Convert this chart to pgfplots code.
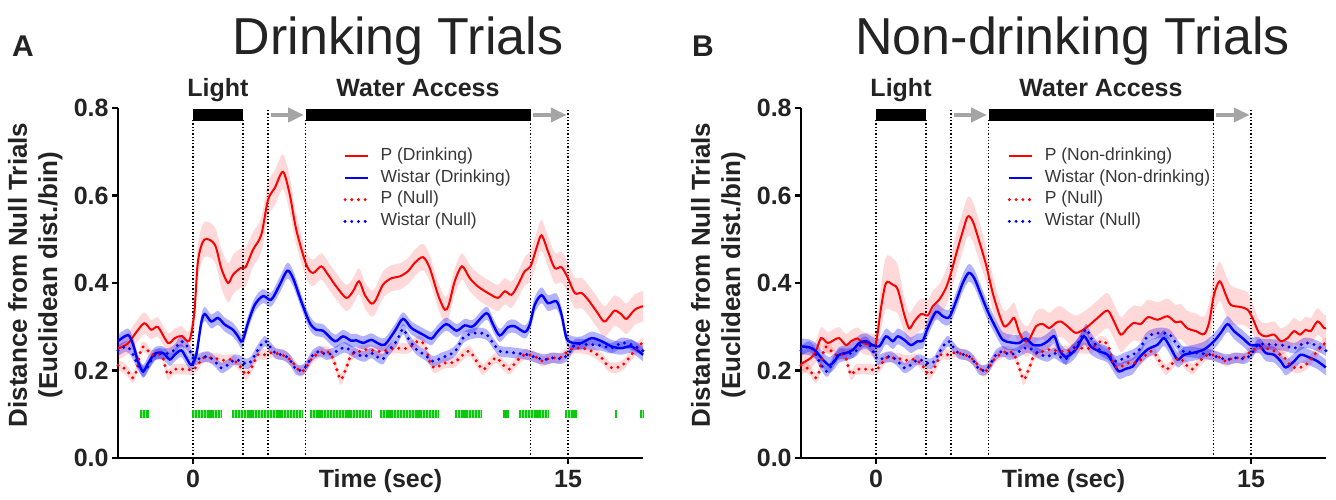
\documentclass[border=0pt]{standalone}
\usepackage{fontspec}
\setmainfont{Liberation Sans}
\usepackage{pgfplots}
\usepackage{pgfplotstable}
\pgfplotsset{compat=1.18}
\usepgfplotslibrary{fillbetween}
\usetikzlibrary{arrows.meta}

\definecolor{txt}{RGB}{35,35,35}
\definecolor{legtxt}{RGB}{55,55,55}
\definecolor{pred}{RGB}{255,0,0}
\definecolor{wblue}{RGB}{0,0,255}
\definecolor{arrowgray}{RGB}{165,165,165}
\definecolor{tickgreen}{RGB}{10,200,10}
\definecolor{tickgreenlt}{RGB}{150,228,150}

% ---- Drinking trials: mean distance (y) and SEM (e) per time point ----
\pgfplotstableread{
t y e
-3.0 0.250 0.025
-2.6 0.262 0.025
-2.3 0.285 0.025
-1.95 0.308 0.025
-1.67 0.293 0.022
-1.4 0.299 0.022
-1.0 0.263 0.022
-0.73 0.274 0.022
-0.45 0.279 0.022
-0.15 0.268 0.022
0.05 0.330 0.030
0.2 0.450 0.040
0.45 0.499 0.040
0.87 0.488 0.040
1.13 0.434 0.045
1.4 0.400 0.045
1.6 0.419 0.045
1.9 0.434 0.045
2.1 0.436 0.045
2.4 0.476 0.040
2.73 0.510 0.040
3.0 0.590 0.040
3.27 0.617 0.040
3.6 0.654 0.040
3.87 0.602 0.040
4.13 0.522 0.035
4.53 0.442 0.030
4.8 0.423 0.030
5.13 0.438 0.030
5.4 0.419 0.030
5.73 0.392 0.030
6.13 0.366 0.030
6.4 0.381 0.030
6.64 0.404 0.030
6.87 0.373 0.030
7.13 0.353 0.030
7.3 0.360 0.030
7.6 0.396 0.030
7.94 0.411 0.030
8.27 0.415 0.030
8.6 0.427 0.030
8.87 0.446 0.030
9.2 0.459 0.030
9.47 0.434 0.030
9.8 0.373 0.030
10.07 0.339 0.030
10.23 0.350 0.030
10.47 0.404 0.030
10.76 0.438 0.030
11.07 0.411 0.030
11.4 0.392 0.030
11.8 0.377 0.030
12.2 0.366 0.030
12.47 0.381 0.030
12.74 0.373 0.030
13.0 0.396 0.030
13.27 0.427 0.032
13.5 0.438 0.035
13.74 0.480 0.035
13.94 0.509 0.035
14.2 0.472 0.035
14.47 0.434 0.035
14.74 0.436 0.035
15.0 0.411 0.035
15.27 0.377 0.035
15.54 0.377 0.035
15.8 0.362 0.035
16.14 0.335 0.035
16.44 0.312 0.035
16.67 0.324 0.035
16.87 0.337 0.035
17.14 0.328 0.035
17.34 0.318 0.035
17.67 0.339 0.035
18.0 0.347 0.035
}\PDrink

\pgfplotstableread{
t y e
-3.0 0.267 0.015
-2.6 0.281 0.015
-2.4 0.260 0.015
-2.2 0.221 0.015
-2.0 0.198 0.015
-1.8 0.216 0.015
-1.53 0.238 0.015
-1.2 0.240 0.015
-0.93 0.225 0.015
-0.73 0.236 0.015
-0.47 0.246 0.015
-0.27 0.229 0.015
-0.07 0.213 0.015
0.13 0.236 0.015
0.33 0.309 0.016
0.47 0.329 0.016
0.73 0.312 0.016
1.0 0.320 0.016
1.27 0.305 0.016
1.6 0.293 0.016
1.8 0.278 0.016
1.97 0.267 0.016
2.2 0.309 0.016
2.47 0.350 0.016
2.8 0.370 0.016
3.13 0.362 0.016
3.47 0.396 0.018
3.77 0.428 0.018
4.0 0.411 0.018
4.33 0.358 0.016
4.67 0.309 0.016
4.93 0.293 0.015
5.2 0.291 0.015
5.67 0.267 0.015
6.0 0.278 0.015
6.33 0.268 0.015
6.53 0.269 0.015
6.8 0.263 0.015
7.13 0.270 0.015
7.4 0.262 0.015
7.67 0.259 0.015
8.07 0.290 0.015
8.4 0.318 0.015
8.74 0.297 0.015
9.2 0.282 0.015
9.54 0.273 0.015
9.8 0.290 0.015
10.14 0.306 0.015
10.54 0.291 0.015
10.87 0.303 0.015
11.2 0.301 0.015
11.74 0.331 0.015
12.0 0.305 0.015
12.27 0.280 0.015
12.6 0.299 0.015
12.87 0.301 0.015
13.27 0.288 0.015
13.47 0.305 0.016
13.67 0.350 0.018
13.94 0.372 0.018
14.2 0.354 0.018
14.54 0.358 0.018
14.74 0.328 0.016
14.94 0.274 0.015
15.2 0.263 0.015
15.54 0.263 0.015
15.94 0.274 0.015
16.34 0.267 0.015
16.74 0.255 0.015
17.14 0.251 0.015
17.54 0.255 0.015
18.0 0.236 0.015
}\WDrink

% ---- Non-drinking trials ----
\pgfplotstableread{
t y e
-3.0 0.215 0.025
-2.6 0.229 0.025
-2.4 0.244 0.025
-2.2 0.274 0.025
-1.93 0.263 0.025
-1.67 0.270 0.025
-1.47 0.274 0.025
-1.2 0.258 0.025
-1.0 0.267 0.025
-0.73 0.273 0.025
-0.53 0.263 0.025
-0.2 0.259 0.025
0.0 0.263 0.030
0.2 0.343 0.050
0.4 0.400 0.060
0.67 0.396 0.060
0.87 0.385 0.055
1.13 0.328 0.040
1.33 0.296 0.035
1.53 0.312 0.035
1.8 0.329 0.035
2.07 0.326 0.035
2.27 0.347 0.035
2.53 0.362 0.035
2.8 0.389 0.040
3.0 0.423 0.040
3.2 0.465 0.045
3.47 0.518 0.045
3.67 0.552 0.045
3.87 0.541 0.045
4.13 0.495 0.045
4.4 0.442 0.040
4.67 0.377 0.040
4.93 0.328 0.035
5.13 0.301 0.035
5.33 0.308 0.035
5.53 0.320 0.035
5.71 0.290 0.035
5.9 0.270 0.035
6.1 0.268 0.035
6.4 0.301 0.035
6.67 0.306 0.035
6.93 0.297 0.035
7.2 0.309 0.035
7.39 0.312 0.035
7.66 0.301 0.035
7.99 0.286 0.040
8.39 0.297 0.040
8.86 0.320 0.040
9.26 0.337 0.040
9.52 0.312 0.040
9.79 0.282 0.040
10.06 0.297 0.040
10.32 0.309 0.040
10.59 0.306 0.040
10.88 0.322 0.040
11.26 0.316 0.040
11.66 0.324 0.040
11.99 0.310 0.040
12.19 0.312 0.040
12.46 0.296 0.040
12.79 0.290 0.040
13.12 0.283 0.040
13.32 0.309 0.045
13.52 0.373 0.045
13.75 0.404 0.045
13.99 0.373 0.045
14.19 0.350 0.045
14.59 0.345 0.040
14.86 0.339 0.040
15.06 0.320 0.035
15.32 0.286 0.030
15.59 0.278 0.030
15.92 0.282 0.030
16.19 0.267 0.030
16.46 0.274 0.030
16.72 0.290 0.030
16.96 0.282 0.030
17.19 0.293 0.030
17.39 0.290 0.030
17.66 0.312 0.030
17.92 0.297 0.030
18.0 0.297 0.030
}\PNon

\pgfplotstableread{
t y e
-3.0 0.255 0.018
-2.67 0.253 0.018
-2.4 0.244 0.018
-2.13 0.225 0.018
-1.87 0.212 0.018
-1.67 0.221 0.018
-1.47 0.236 0.018
-1.2 0.240 0.018
-0.93 0.247 0.018
-0.67 0.263 0.018
-0.4 0.267 0.018
-0.13 0.258 0.018
0.13 0.255 0.018
0.4 0.278 0.018
0.67 0.267 0.018
0.87 0.278 0.018
1.13 0.270 0.018
1.4 0.258 0.018
1.67 0.267 0.018
1.87 0.268 0.018
2.07 0.297 0.018
2.4 0.334 0.018
2.67 0.324 0.018
2.93 0.322 0.018
3.2 0.358 0.020
3.47 0.400 0.020
3.71 0.423 0.020
3.93 0.411 0.020
4.2 0.373 0.020
4.47 0.335 0.020
4.8 0.297 0.018
5.07 0.270 0.018
5.4 0.264 0.018
5.73 0.263 0.018
6.0 0.273 0.018
6.27 0.259 0.018
6.6 0.258 0.018
6.87 0.267 0.018
7.13 0.278 0.018
7.33 0.248 0.018
7.53 0.233 0.018
7.66 0.232 0.018
7.99 0.248 0.018
8.32 0.278 0.018
8.59 0.255 0.018
8.92 0.244 0.018
9.26 0.236 0.018
9.52 0.213 0.018
9.72 0.198 0.018
9.99 0.204 0.018
10.26 0.209 0.018
10.52 0.229 0.018
10.86 0.248 0.018
11.26 0.259 0.018
11.52 0.274 0.018
11.79 0.251 0.018
12.06 0.225 0.018
12.32 0.236 0.018
12.66 0.240 0.018
13.12 0.248 0.018
13.52 0.267 0.018
13.79 0.286 0.018
14.06 0.306 0.018
14.32 0.290 0.018
14.66 0.274 0.018
14.99 0.258 0.018
15.32 0.258 0.018
15.59 0.240 0.018
15.92 0.236 0.018
16.19 0.221 0.018
16.39 0.207 0.018
16.72 0.221 0.018
16.99 0.236 0.018
17.32 0.230 0.018
17.66 0.221 0.018
17.99 0.207 0.018
}\WNon

% ---- Null trials (shared by both panels) ----
\pgfplotstableread{
t y e
-3.0 0.212 0.012
-2.67 0.202 0.012
-2.43 0.183 0.012
-2.27 0.198 0.012
-2.07 0.250 0.012
-1.87 0.251 0.012
-1.67 0.236 0.012
-1.27 0.236 0.012
-1.13 0.213 0.012
-1.0 0.190 0.012
-0.8 0.202 0.012
-0.6 0.203 0.012
-0.33 0.203 0.012
0.0 0.202 0.012
0.2 0.213 0.012
0.4 0.229 0.012
0.67 0.229 0.012
0.93 0.227 0.012
1.27 0.223 0.012
1.6 0.225 0.012
1.93 0.206 0.012
2.13 0.190 0.012
2.4 0.213 0.012
2.6 0.236 0.012
2.93 0.236 0.012
3.2 0.242 0.012
3.47 0.236 0.012
3.73 0.232 0.012
4.07 0.213 0.012
4.27 0.198 0.012
4.47 0.202 0.012
4.67 0.221 0.012
4.93 0.236 0.012
5.27 0.244 0.012
5.53 0.236 0.012
5.73 0.206 0.012
5.91 0.179 0.012
6.13 0.206 0.012
6.33 0.236 0.012
6.6 0.242 0.012
6.93 0.248 0.012
7.33 0.244 0.012
7.6 0.244 0.012
8.07 0.251 0.012
8.6 0.251 0.012
9.0 0.267 0.012
9.27 0.259 0.012
9.47 0.221 0.012
9.67 0.206 0.012
10.07 0.217 0.012
10.47 0.219 0.012
10.8 0.236 0.012
11.07 0.244 0.012
11.34 0.221 0.012
11.6 0.202 0.012
11.87 0.217 0.012
12.14 0.229 0.012
12.4 0.213 0.012
12.67 0.203 0.012
12.94 0.221 0.012
13.27 0.236 0.012
13.67 0.232 0.012
14.0 0.221 0.012
14.27 0.229 0.012
14.67 0.229 0.012
15.0 0.244 0.012
15.27 0.251 0.012
15.8 0.248 0.012
16.34 0.229 0.012
16.6 0.210 0.012
16.87 0.206 0.012
17.2 0.213 0.012
17.54 0.236 0.012
17.87 0.259 0.012
18.0 0.262 0.012
}\PNull

\pgfplotstableread{
t y e
-3.0 0.245 0.012
-2.67 0.255 0.012
-2.47 0.244 0.012
-2.27 0.221 0.012
-2.07 0.202 0.012
-1.93 0.198 0.012
-1.73 0.217 0.012
-1.47 0.238 0.012
-1.2 0.238 0.012
-0.93 0.240 0.012
-0.73 0.248 0.012
-0.53 0.265 0.012
-0.33 0.263 0.012
-0.13 0.245 0.012
0.07 0.225 0.012
0.33 0.229 0.012
0.6 0.232 0.012
0.87 0.221 0.012
1.13 0.206 0.012
1.4 0.213 0.012
1.67 0.225 0.012
1.93 0.221 0.012
2.13 0.215 0.012
2.33 0.221 0.012
2.6 0.248 0.012
2.87 0.267 0.012
3.07 0.255 0.012
3.33 0.238 0.012
3.6 0.236 0.012
3.87 0.225 0.012
4.13 0.202 0.012
4.4 0.202 0.012
4.6 0.217 0.012
4.8 0.236 0.012
5.07 0.244 0.012
5.33 0.236 0.012
5.6 0.240 0.012
5.87 0.248 0.012
6.07 0.253 0.012
6.33 0.245 0.012
6.6 0.236 0.012
6.87 0.232 0.012
7.13 0.240 0.012
7.4 0.230 0.012
7.6 0.226 0.012
7.8 0.244 0.012
8.14 0.267 0.012
8.4 0.295 0.012
8.6 0.274 0.012
8.94 0.248 0.012
9.27 0.236 0.012
9.6 0.221 0.012
9.94 0.229 0.012
10.27 0.236 0.012
10.54 0.248 0.012
10.8 0.274 0.012
11.07 0.283 0.012
11.4 0.286 0.012
11.74 0.282 0.012
12.0 0.263 0.012
12.27 0.244 0.012
12.6 0.242 0.012
13.0 0.239 0.012
13.4 0.236 0.012
13.74 0.229 0.012
14.07 0.225 0.012
14.4 0.229 0.012
14.74 0.227 0.012
15.0 0.236 0.012
15.27 0.259 0.012
15.6 0.260 0.012
15.94 0.259 0.012
16.34 0.257 0.012
16.74 0.251 0.012
17.14 0.263 0.012
17.54 0.259 0.012
18.0 0.245 0.012
}\WNull

% shaded SEM band around a series: #1 path id, #2 table, #3 colour, #4 opacity
\newcommand{\semband}[4]{%
  \addplot[draw=none, smooth, forget plot, name path=#1u]
    table[x=t, y expr=\thisrow{y}+\thisrow{e}] {#2};
  \addplot[draw=none, smooth, forget plot, name path=#1l]
    table[x=t, y expr=\thisrow{y}-\thisrow{e}] {#2};
  \addplot[fill=#3, fill opacity=#4, draw=none, forget plot]
    fill between[of=#1u and #1l];
}

% one run of significant bins, drawn as a striped strip at 0.1
\newcommand{\sigrun}[2]{%
  \addplot[tickgreenlt, line width=4.2pt, line cap=butt, forget plot]
    coordinates {(#1,0.1) (#2,0.1)};
  \addplot[tickgreen, line width=4.2pt, line cap=butt, dash pattern=on 1.05pt off 0.4pt, forget plot]
    coordinates {(#1,0.1) (#2,0.1)};
}

% light / water-access timeline and event markers
\newcommand{\timeline}{%
  \addplot[black, densely dotted, line width=0.65pt, forget plot] coordinates {(0,0) (0,0.772)};
  \addplot[black, densely dotted, line width=0.65pt, forget plot] coordinates {(2,0) (2,0.772)};
  \addplot[black, densely dotted, line width=0.65pt, forget plot] coordinates {(3,0) (3,0.797)};
  \addplot[black, densely dotted, line width=0.65pt, forget plot] coordinates {(4.5,0) (4.5,0.772)};
  \addplot[black, densely dotted, line width=0.65pt, forget plot] coordinates {(13.5,0) (13.5,0.772)};
  \addplot[black, densely dotted, line width=0.65pt, forget plot] coordinates {(15,0) (15,0.797)};
  \addplot[black, line width=6pt, line cap=butt, forget plot] coordinates {(0,0.784) (2,0.784)};
  \addplot[black, line width=6pt, line cap=butt, forget plot] coordinates {(4.5,0.784) (13.5,0.784)};
  \addplot[arrowgray, line width=2.3pt, -{Triangle[width=7pt,length=8pt]}, forget plot]
    coordinates {(3.1,0.784) (4.44,0.784)};
  \addplot[arrowgray, line width=2.3pt, -{Triangle[width=7pt,length=8pt]}, forget plot]
    coordinates {(13.58,0.784) (14.95,0.784)};
}

\pgfplotsset{
  panel/.style={
    scale only axis, width=262.5pt, height=175pt,
    xmin=-3, xmax=18, ymin=0, ymax=0.8,
    axis x line*=bottom, axis y line*=left,
    axis line style={line width=1.25pt, black},
    tick align=outside, major tick length=3pt,
    tick style={line width=1.25pt, black},
    xtick={0,15}, xticklabels={0,15},
    ytick={0,0.2,0.4,0.6,0.8}, yticklabels={0.0,0.2,0.4,0.6,0.8},
    tick label style={font=\fontsize{12.5}{14}\selectfont\bfseries, text=txt},
    yticklabel style={inner sep=1.5pt},
    xticklabel style={anchor=base, yshift=-12pt},
    xlabel={Time (sec)},
    xlabel style={at={(axis description cs:0.5,0)}, anchor=base, yshift=-15pt,
      font=\fontsize{12.5}{14}\selectfont\bfseries, text=txt},
    clip=false,
    legend cell align=left,
    legend image code/.code={\draw[##1] (0pt,0pt) -- (11.5pt,0pt);},
  },
  psolid/.style={pred, line width=1pt, smooth},
  wsolid/.style={wblue, line width=1.2pt, smooth},
  pdot/.style={pred, line width=1.65pt, line cap=round, dash pattern=on 0pt off 3.35pt, smooth},
  wdot/.style={wblue, line width=1.65pt, line cap=round, dash pattern=on 0pt off 3.35pt, smooth},
  legbox/.style={
    legend style={at={(#1,0.895)}, anchor=north west, draw=none, fill=none,
      font=\fontsize{8.75}{10}\selectfont, text=legtxt, inner sep=0pt, row sep=0pt,
      nodes={inner sep=1.4pt, text height=6.2pt, text depth=1.9pt},
      /tikz/every odd column/.append style={column sep=4pt}}
  },
}

\begin{document}
\begin{tikzpicture}
% page frame
\path (0,0) rectangle (668pt,248pt);

% panel letters, titles and y-axis titles
\node[anchor=base, font=\fontsize{15}{18}\selectfont\bfseries, text=txt] at (11.5pt,219.5pt) {A};
\node[anchor=base, font=\fontsize{15}{18}\selectfont\bfseries, text=txt] at (351.5pt,219.5pt) {B};
\node[anchor=base, font=\fontsize{26}{30}\selectfont, text=txt] at (199pt,220.5pt) {Drinking Trials};
\node[anchor=base, font=\fontsize{26}{30}\selectfont, text=txt] at (536.3pt,220.5pt) {Non-drinking Trials};
\foreach \dx in {0pt,341.5pt}{
  \node[rotate=90, anchor=base, font=\fontsize{13}{15}\selectfont\bfseries, text=txt]
    at ([xshift=\dx]13.4pt,110.5pt) {Distance from Null Trials};
  \node[rotate=90, anchor=base, font=\fontsize{13}{15}\selectfont\bfseries, text=txt]
    at ([xshift=\dx]28.6pt,110.5pt) {(Euclidean dist./bin)};
}

% ---------------- A: drinking trials ----------------
\begin{axis}[panel, legbox=0.4286, at={(59pt,19pt)}, anchor=south west]
  \timeline
  \node[anchor=base, font=\fontsize{12.5}{14}\selectfont\bfseries, text=txt, yshift=5.5pt] at (axis cs:1,0.8) {Light};
  \node[anchor=base, font=\fontsize{12.5}{14}\selectfont\bfseries, text=txt, yshift=5.5pt] at (axis cs:9,0.8) {Water Access};
  % runs of bins that differ significantly between strains
  \sigrun{-2.13}{-1.76}
  \sigrun{-0.04}{1.13}
  \sigrun{1.56}{4.40}
  \sigrun{4.67}{7.13}
  \sigrun{7.47}{9.84}
  \sigrun{10.47}{11.54}
  \sigrun{12.38}{12.63}
  \sigrun{13.04}{14.24}
  \sigrun{14.87}{15.34}
  \sigrun{16.87}{16.95}
  \sigrun{17.87}{18.0}
  \semband{a1}{\PNull}{pred}{0.15}
  \semband{a2}{\WNull}{wblue}{0.3}
  \semband{a3}{\PDrink}{pred}{0.15}
  \semband{a4}{\WDrink}{wblue}{0.3}
  \addplot[psolid] table[x=t, y=y] {\PDrink};
  \addplot[wsolid] table[x=t, y=y] {\WDrink};
  \addplot[pdot] table[x=t, y=y] {\PNull};
  \addplot[wdot] table[x=t, y=y] {\WNull};
  \legend{P (Drinking), Wistar (Drinking), P (Null), Wistar (Null)}
\end{axis}

% ---------------- B: non-drinking trials ----------------
\begin{axis}[panel, legbox=0.393, at={(400.5pt,19pt)}, anchor=south west]
  \timeline
  \node[anchor=base, font=\fontsize{12.5}{14}\selectfont\bfseries, text=txt, yshift=5.5pt] at (axis cs:1,0.8) {Light};
  \node[anchor=base, font=\fontsize{12.5}{14}\selectfont\bfseries, text=txt, yshift=5.5pt] at (axis cs:9,0.8) {Water Access};
  \semband{b1}{\PNull}{pred}{0.15}
  \semband{b2}{\WNull}{wblue}{0.3}
  \semband{b3}{\PNon}{pred}{0.15}
  \semband{b4}{\WNon}{wblue}{0.3}
  \addplot[psolid] table[x=t, y=y] {\PNon};
  \addplot[wsolid] table[x=t, y=y] {\WNon};
  \addplot[pdot] table[x=t, y=y] {\PNull};
  \addplot[wdot] table[x=t, y=y] {\WNull};
  \legend{P (Non-drinking), Wistar (Non-drinking), P (Null), Wistar (Null)}
\end{axis}
\end{tikzpicture}
\end{document}
